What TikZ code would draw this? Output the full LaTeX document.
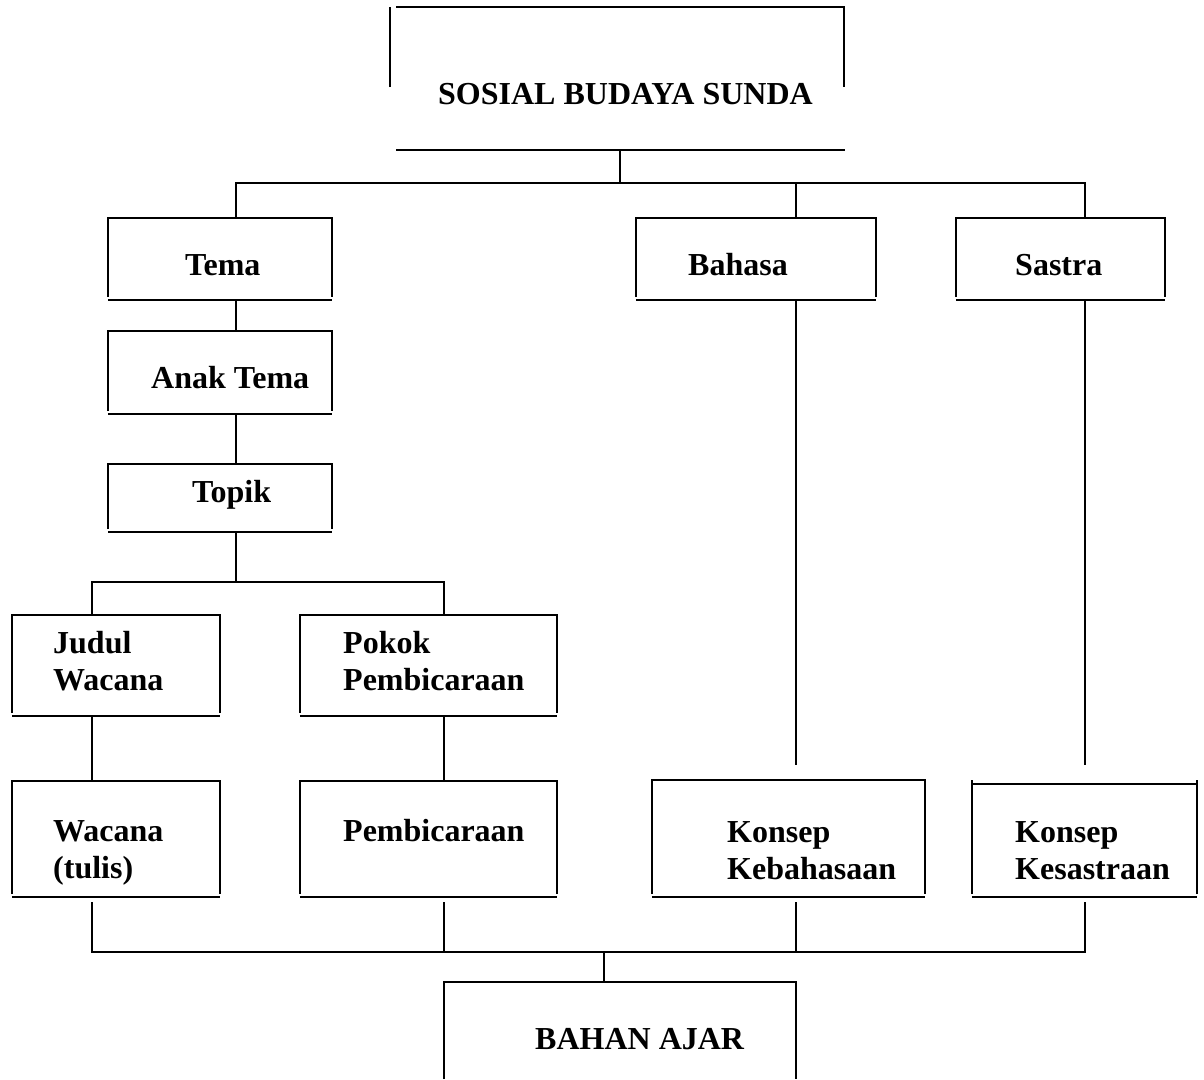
\documentclass[tikz,border=0pt]{standalone}
\usepackage{fontspec}
\setmainfont{Liberation Serif}
\usetikzlibrary{calc,fit}
% two left-aligned lines, aligned on the baseline of the first one
\newcommand\stackedlines[2]{\begin{tabular}[t]{@{}l@{}}#1\\#2\end{tabular}}
\begin{document}
\begin{tikzpicture}[x=1pt,y=-1pt,
  frame/.style={draw=none, inner sep=0pt, outer sep=0pt},
  edge/.style={line width=1.9pt, black},
  baseedge/.style={line width=2.6pt, black},
  boxtext/.style={inner sep=0pt, anchor=base west,
    font=\fontsize{32}{37.5}\selectfont\bfseries},
]
\fill[white] (0,0) rectangle (1204,1079);
\useasboundingbox (0,0) rectangle (1204,1079);

% box outlines (areas only; strokes are drawn below)
\node[frame, fit={(390,7) (844,150)}]   (ssb) {};
\node[frame, fit={(108,218) (332,300)}] (tema) {};
\node[frame, fit={(108,331) (332,414)}] (anak) {};
\node[frame, fit={(108,464) (332,532)}] (topik) {};
\node[frame, fit={(636,218) (876,300)}] (bahasa) {};
\node[frame, fit={(956,218) (1165,300)}] (sastra) {};
\node[frame, fit={(12,615) (220,716)}]  (judul) {};
\node[frame, fit={(300,615) (557,716)}] (pokok) {};
\node[frame, fit={(12,781) (220,897)}]  (wacana) {};
\node[frame, fit={(300,781) (557,897)}] (pemb) {};
\node[frame, fit={(652,780) (925,897)}] (kbh) {};
\node[frame, fit={(972,780) (1197,897)}] (kss) {};
\node[frame, fit={(444,982) (796,1079)}] (bahan) {};

% box strokes
\foreach \b in {tema,anak,topik,bahasa,sastra,judul,pokok,wacana,pemb,kbh}{
  \draw[edge] ($(\b.south west)+(0,-3)$) |- (\b.north east) -- ($(\b.south east)+(0,-3)$);
  \draw[baseedge] (\b.south west) -- (\b.south east);
}
\draw[edge] ($(kss.south west)+(0,-3)$) -- (kss.north west);
\draw[edge] ($(kss.south east)+(0,-3)$) -- (kss.north east);
\draw[edge] ($(kss.north west)+(0,4)$) -- ($(kss.north east)+(0,4)$);
\draw[baseedge] (kss.south west) -- (kss.south east);

\draw[edge] ($(ssb.north west)+(0,80)$) -- (ssb.north west);
\draw[edge] ($(ssb.north west)+(6,0)$) -- (ssb.north east) -- ($(ssb.north east)+(0,80)$);
\draw[edge] ($(ssb.south west)+(6,0)$) -- ($(ssb.south east)+(1,0)$);

\draw[edge] (bahan.south west) |- (bahan.north east) -- (bahan.south east);

% texts
\node[boxtext] (ssbT)    at (438,104)  {SOSIAL BUDAYA SUNDA};
\node[boxtext] (temaT)   at (185,275)  {Tema};
\node[boxtext] (anakT)   at (151,388)  {Anak Tema};
\node[boxtext] (topikT)  at (192,502)  {Topik};
\node[boxtext] (bahasaT) at (688,275)  {Bahasa};
\node[boxtext] (sastraT) at (1015,275) {Sastra};
\node[boxtext] (judulT)  at (53,653)   {\stackedlines{Judul}{Wacana}};
\node[boxtext] (pokokT)  at (343,653)  {\stackedlines{Pokok}{Pembicaraan}};
\node[boxtext] (wacanaT) at (53,841)   {\stackedlines{Wacana}{(tulis)}};
\node[boxtext] (pembT)   at (343,841)  {Pembicaraan};
\node[boxtext] (kbhT)    at (727,842)  {\stackedlines{Konsep}{Kebahasaan}};
\node[boxtext] (kssT)    at (1015,842) {\stackedlines{Konsep}{Kesastraan}};
\node[boxtext] (bahanT)  at (535,1049) {BAHAN AJAR};

% connector columns and junctions
\coordinate (colA) at (236,0);
\coordinate (colB) at (796,0);
\coordinate (colC) at (1085,0);
\coordinate (colJ) at (92,0);
\coordinate (colP) at (444,0);
\coordinate (hubTop) at (620,183);
\coordinate (hubMid) at (236,582);
\coordinate (hubLow) at (604,952);

% connectors
\draw[edge] (ssb.south -| hubTop) -- (hubTop);
\draw[edge] (tema.north -| colA) |- (hubTop) -| (sastra.north -| colC);
\draw[edge] (hubTop -| colB) -- (bahasa.north -| colB);
\draw[edge] (tema.south -| colA) -- (anak.north -| colA);
\draw[edge] (anak.south -| colA) -- (topik.north -| colA);
\draw[edge] (topik.south -| colA) -- (hubMid);
\draw[edge] (judul.north -| colJ) |- (hubMid) -| (pokok.north -| colP);
\draw[edge] (judul.south -| colJ) -- (wacana.north -| colJ);
\draw[edge] (pokok.south -| colP) -- (pemb.north -| colP);
\draw[edge] (bahasa.south -| colB) -- ($(kbh.north -| colB)+(0,-15)$);
\draw[edge] (sastra.south -| colC) -- ($(kss.north -| colC)+(0,-15)$);
\draw[edge] ($(wacana.south -| colJ)+(0,5)$) |- (hubLow) -| ($(kss.south -| colC)+(0,5)$);
\draw[edge] ($(pemb.south -| colP)+(0,5)$) -- (hubLow -| colP);
\draw[edge] ($(kbh.south -| colB)+(0,5)$) -- (hubLow -| colB);
\draw[edge] (hubLow) -- (bahan.north -| hubLow);
\end{tikzpicture}
\end{document}
